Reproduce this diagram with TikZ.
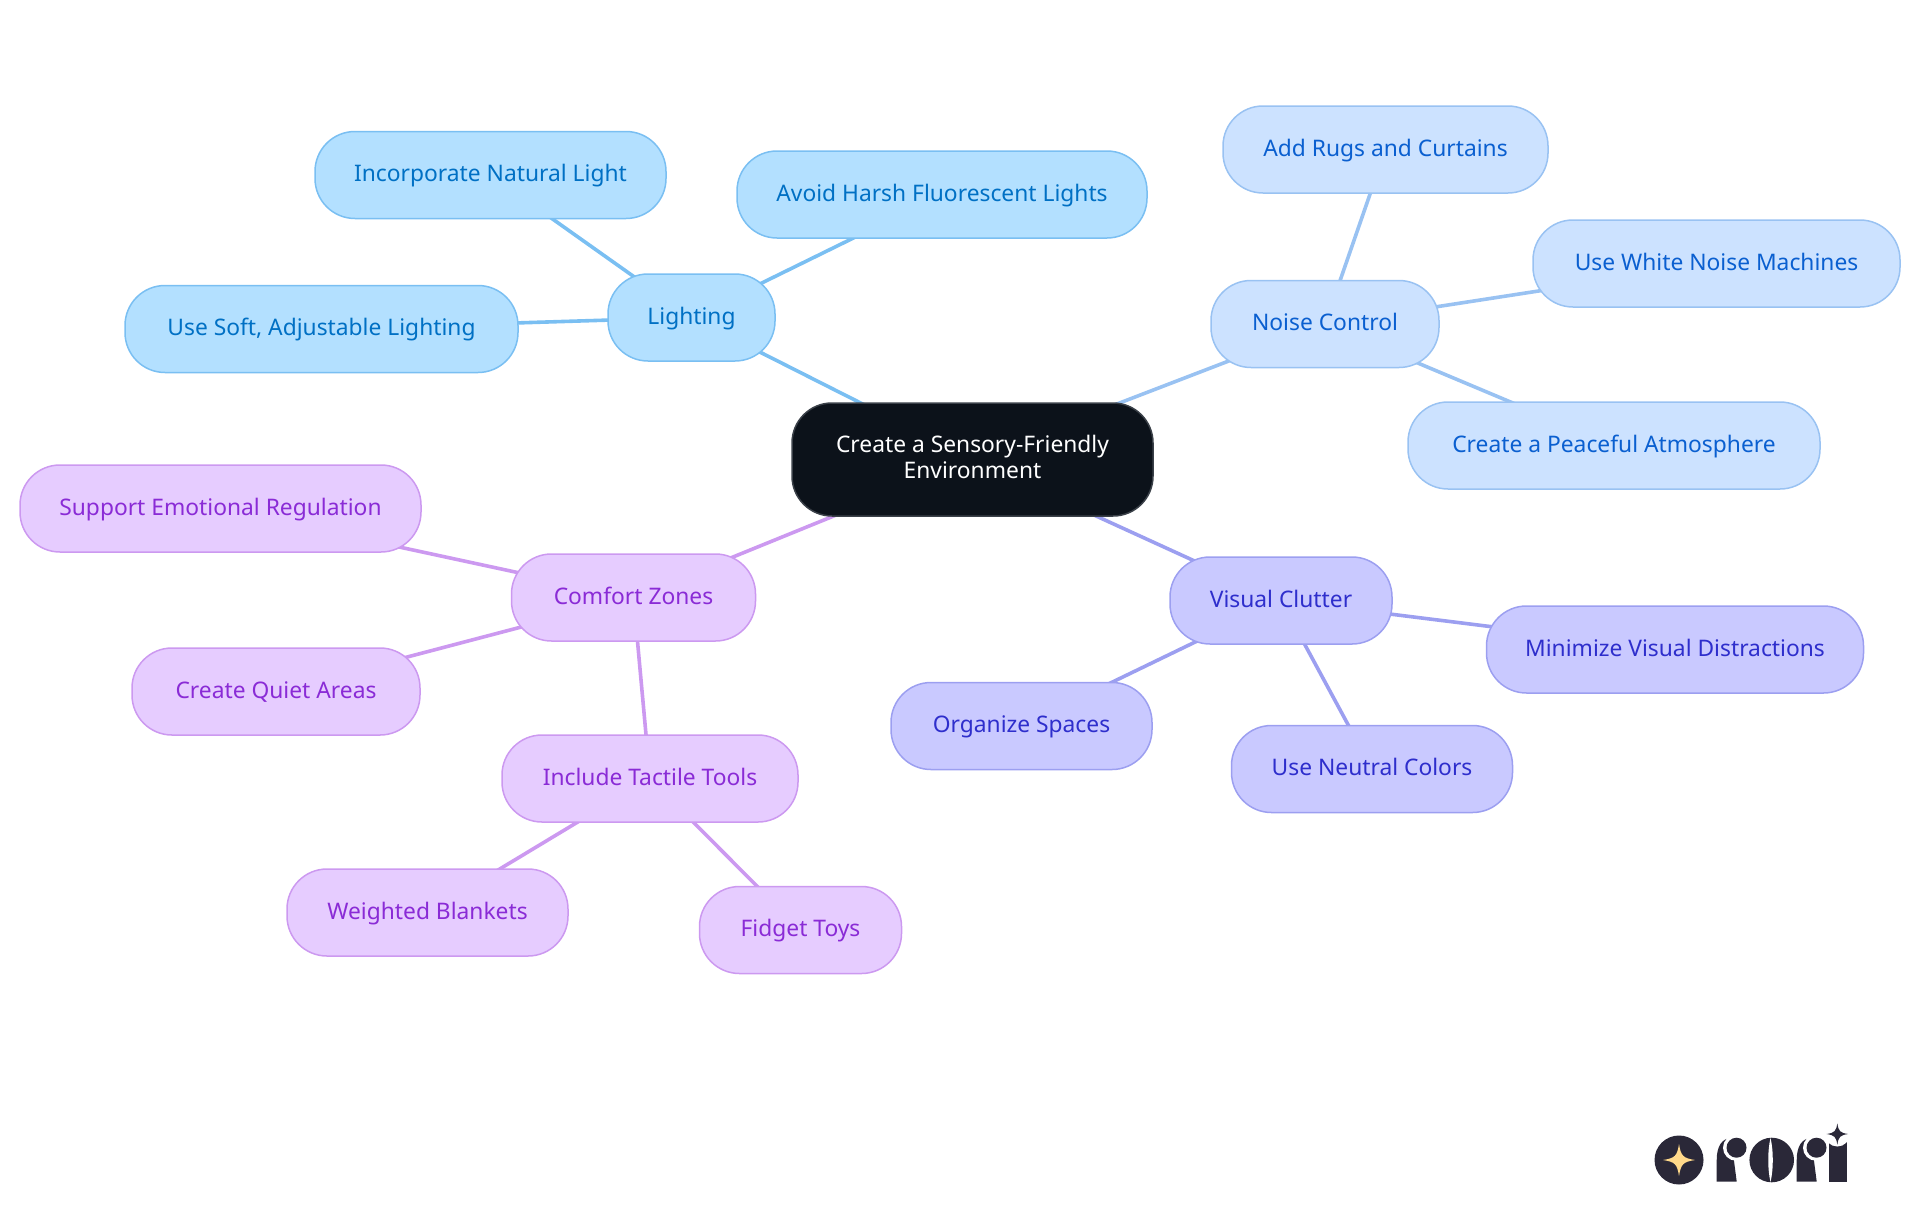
\documentclass[tikz,border=0pt]{standalone}
\usepackage{fontspec}
\setmainfont{Noto Sans}[Scale=1]
\usetikzlibrary{backgrounds}
\definecolor{rootfill}{HTML}{0C121A}
\definecolor{rootedge}{HTML}{3A4048}
\definecolor{lightfill}{HTML}{B3E0FF}
\definecolor{lightedge}{HTML}{7ABFF2}
\definecolor{lighttext}{HTML}{0070C4}
\definecolor{noisefill}{HTML}{CCE2FF}
\definecolor{noiseedge}{HTML}{99C2F2}
\definecolor{noisetext}{HTML}{0A5FD0}
\definecolor{clutterfill}{HTML}{C9C9FF}
\definecolor{clutteredge}{HTML}{9C9FF0}
\definecolor{cluttertext}{HTML}{2E2ECC}
\definecolor{comfortfill}{HTML}{E6CCFF}
\definecolor{comfortedge}{HTML}{CC99F0}
\definecolor{comforttext}{HTML}{8A2BD6}
\definecolor{logodark}{HTML}{2A2838}
\definecolor{logostar}{HTML}{FFD98A}
\newcommand{\sparkle}[3]{\fill[#3,shift={(#1)},scale=#2] (1,0) .. controls (.25,.12) and (.12,.25) .. (0,1) .. controls (-.12,.25) and (-.25,.12) .. (-1,0) .. controls (-.25,-.12) and (-.12,-.25) .. (0,-1) .. controls (.12,-.25) and (.25,-.12) .. (1,0) -- cycle;}
\tikzset{
  mindnode/.style={rounded corners=20pt,minimum height=43.5pt,inner sep=0pt,align=center,line width=0.75pt,font=\fontsize{11.4pt}{13pt}\selectfont},
  oneline/.style={mindnode,text height=9pt,text depth=2.5pt},
  wide/.style={minimum width=#1*0.5pt},
  rootnode/.style={mindnode,draw=rootedge,fill=rootfill,text=white,minimum height=56.5pt,text height=21.8pt,text depth=3pt},
  lightnode/.style={oneline,draw=lightedge,fill=lightfill,text=lighttext},
  noisenode/.style={oneline,draw=noiseedge,fill=noisefill,text=noisetext},
  clutternode/.style={oneline,draw=clutteredge,fill=clutterfill,text=cluttertext},
  comfortnode/.style={oneline,draw=comfortedge,fill=comfortfill,text=comforttext},
  branch/.style={line width=1.8pt}
}
\begin{document}
\begin{tikzpicture}[x=0.5pt,y=-0.5pt]
\useasboundingbox (0,0) rectangle (1920,1215);
\node[rootnode,wide=361] (root) at (972.5,459.5) {Create a Sensory-Friendly\\Environment};

\node[lightnode,wide=167] (lighting) at (691.5,317.5) {Lighting};
\node[lightnode,wide=351] (natural) at (490.5,175) {Incorporate Natural Light};
\node[lightnode,wide=410] (harsh) at (942,194.5) {Avoid Harsh Fluorescent Lights};
\node[lightnode,wide=393] (soft) at (321.5,329) {Use Soft, Adjustable Lighting};

\node[noisenode,wide=228] (noise) at (1325,324) {Noise Control};
\node[noisenode,wide=325] (rugs) at (1385.5,149.5) {Add Rugs and Curtains};
\node[noisenode,wide=367] (white) at (1716.5,263.5) {Use White Noise Machines};
\node[noisenode,wide=412] (peace) at (1614,445.5) {Create a Peaceful Atmosphere};

\node[clutternode,wide=222] (clutter) at (1281,600.5) {Visual Clutter};
\node[clutternode,wide=377] (minimize) at (1675,649.5) {Minimize Visual Distractions};
\node[clutternode,wide=261] (organize) at (1021.5,726) {Organize Spaces};
\node[clutternode,wide=281] (neutral) at (1372,769) {Use Neutral Colors};

\node[comfortnode,wide=244] (comfort) at (633.5,597.5) {Comfort Zones};
\node[comfortnode,wide=401] (support) at (220.5,508.5) {Support Emotional Regulation};
\node[comfortnode,wide=288] (quiet) at (276,691.5) {Create Quiet Areas};
\node[comfortnode,wide=296] (tactile) at (650,778.5) {Include Tactile Tools};
\node[comfortnode,wide=281] (blankets) at (427.5,912.5) {Weighted Blankets};
\node[comfortnode,wide=202] (fidget) at (800.5,930) {Fidget Toys};

\begin{pgfonlayer}{background}
\foreach \a/\b in {root/lighting,lighting/natural,lighting/harsh,lighting/soft}
  \draw[branch,lightedge] (\a.center) -- (\b.center);
\foreach \a/\b in {root/noise,noise/rugs,noise/white,noise/peace}
  \draw[branch,noiseedge] (\a.center) -- (\b.center);
\foreach \a/\b in {root/clutter,clutter/minimize,clutter/organize,clutter/neutral}
  \draw[branch,clutteredge] (\a.center) -- (\b.center);
\foreach \a/\b in {root/comfort,comfort/support,comfort/quiet,comfort/tactile,tactile/blankets,tactile/fidget}
  \draw[branch,comfortedge] (\a.center) -- (\b.center);
\end{pgfonlayer}

\fill[logodark] (1679,1160) circle (24.5);
\sparkle{1679,1160}{16}{logostar}
\foreach \dx in {0,80} {
  \fill[logodark] (1716.7+\dx,1181.7) -- (1716.7+\dx,1160) .. controls (1716.7+\dx,1146) and (1722+\dx,1138.5) .. (1731+\dx,1138) -- (1736.7+\dx,1181.7) -- cycle;
  \fill[white] (1736+\dx,1147.7) circle (13);
  \fill[logodark] (1736.5+\dx,1147.7) circle (10);
}
\fill[logodark] (1771.7,1160) circle (22.3);
\fill[white] (1770.5,1138) .. controls (1773.5,1150) and (1773.5,1170) .. (1770.5,1182) .. controls (1767.5,1170) and (1767.5,1150) .. (1770.5,1138) -- cycle;
\fill[logodark] (1829,1142) rectangle (1846.7,1181.7);
\fill[white] (1837.3,1134) circle (12.5);
\sparkle{1837.3,1134}{10.7}{logodark}
\end{tikzpicture}
\end{document}
